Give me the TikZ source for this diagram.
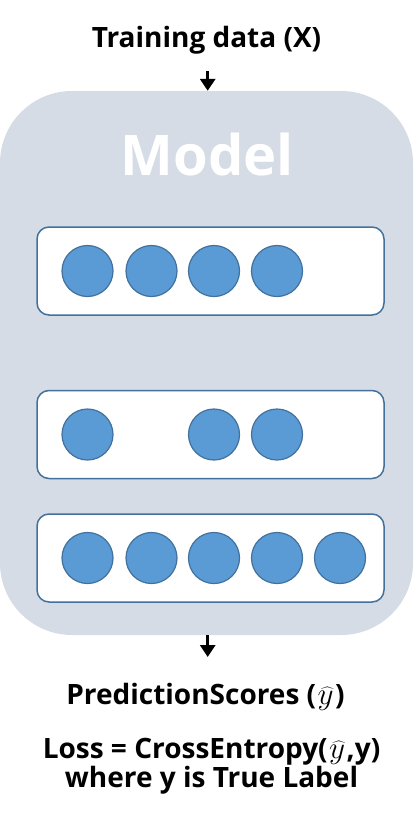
\documentclass[tikz,border=0pt]{standalone}
\usepackage{fontspec}
\setmainfont{Open Sans}
\usetikzlibrary{arrows.meta}
\definecolor{modelbg}{HTML}{D6DCE5}
\definecolor{neuron}{HTML}{5B9BD5}
\definecolor{edgeblue}{HTML}{41719C}
\newcommand{\yhat}{\kern1.5pt\scalebox{1.25}{$\widehat{y}$}\kern1.5pt}
\begin{document}
\begin{tikzpicture}[x=1pt,y=1pt,
  modelbox/.style={fill=modelbg, draw=none, rounded corners=72pt, minimum width=413pt, minimum height=544pt, inner sep=0pt},
  layerbox/.style={fill=white, draw=edgeblue, line width=1.5pt, rounded corners=12pt, minimum width=347pt, minimum height=88pt, inner sep=0pt},
  neuronnode/.style={circle, fill=neuron, draw=edgeblue, line width=1.2pt, minimum size=51pt, inner sep=0pt},
  arr/.style={line width=3pt, -{Triangle[width=15pt,length=12pt]}},
  lbl/.style={font=\bfseries\fontsize{28}{32}\selectfont, anchor=base, inner sep=0pt}
]
\useasboundingbox (0,0) rectangle (419,-817);
\node[modelbox] (model) at (206.5,-363) {};
\node[font=\bfseries\fontsize{56}{60}\selectfont, text=white, anchor=base, inner sep=0pt] (modeltitle) at (207.5,-175) {Model};

\node[layerbox] (l1) at (210.5,-271) {};
\node[layerbox] (l2) at (210.5,-434.5) {};
\node[layerbox] (l3) at (210.5,-558) {};

\node[neuronnode] (n11) at (87.5,-271) {};
\node[neuronnode] (n12) at (151.5,-271) {};
\node[neuronnode] (n13) at (214,-271) {};
\node[neuronnode] (n14) at (277,-271) {};

\node[neuronnode] (n21) at (87.5,-434.5) {};
\node[neuronnode] (n23) at (214,-434.5) {};
\node[neuronnode] (n24) at (277,-434.5) {};

\node[neuronnode] (n31) at (87.5,-558) {};
\node[neuronnode] (n32) at (151.5,-558) {};
\node[neuronnode] (n33) at (214,-558) {};
\node[neuronnode] (n34) at (277,-558) {};
\node[neuronnode] (n35) at (340,-558) {};

\node[lbl] (train) at (206.5,-47) {Training data (X)};
\coordinate (a1) at (207.7,-71);
\draw[arr] (a1) -- (a1 |- model.north);
\coordinate (a2) at (207.7,-657);
\draw[arr] (a2 |- model.south) -- (a2);

\node[lbl] (pred) at (205.5,-704) {PredictionScores (\yhat)};
\node[lbl] (loss) at (211.5,-758) {Loss = CrossEntropy(\yhat,y)};
\node[lbl] (where) at (211.5,-787) {where y is True Label};
\end{tikzpicture}
\end{document}
